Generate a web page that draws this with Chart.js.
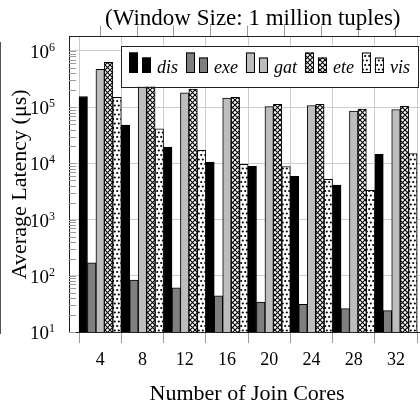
<!DOCTYPE html>
<html lang="en">
<head>
<meta charset="UTF-8">
<title>Average Latency vs Number of Join Cores</title>
<script src="https://cdn.jsdelivr.net/npm/chart.js@4"></script>
<style>
  html, body { margin: 0; padding: 0; background: #fff; overflow: hidden; }
  #wrap { position: relative; width: 420px; height: 407px; overflow: hidden; }
  #edge { position: absolute; left: 0; top: 42px; width: 1px; height: 292px; background: #555; }
</style>
</head>
<body>
<div id="wrap">
  <canvas id="latencyChart" width="440" height="407"></canvas>
  <div id="edge"></div>
</div>
<script>
// values, one entry per core count
const cores = [4, 8, 12, 16, 20, 24, 28, 32];
const dis = [155000, 48000, 19500, 10500, 8900, 5900, 4100, 14500];
const exe = [170, 84, 61, 44, 34, 31, 26, 24];
const gat = [470000, 300000, 180000, 145000, 102000, 107000, 85000, 91000];
const ete = [630000, 340000, 210000, 150000, 112000, 112000, 92000, 103000];
const vis = [150000, 41000, 17000, 9600, 8800, 5200, 3300, 15000];
const seriesNames = ['dis', 'exe', 'gat', 'ete', 'vis'];
const yDecades = [1, 2, 3, 4, 5, 6];

const serif = 'Liberation Serif, Times New Roman, serif';

function makePattern(kind) {
    const c = document.createElement('canvas');
    const g = c.getContext('2d');
    if (kind === 'cross') {
        c.width = 5; c.height = 5;
        g.fillStyle = '#fff';
        g.fillRect(0, 0, 5, 5);
        g.strokeStyle = '#000';
        g.lineWidth = 1.1;
        g.beginPath();
        g.moveTo(-1, -1); g.lineTo(6, 6);
        g.moveTo(6, -1); g.lineTo(-1, 6);
        g.stroke();
    } else {
        c.width = 4; c.height = 9;
        g.fillStyle = '#fff';
        g.fillRect(0, 0, 4, 9);
        g.fillStyle = '#000';
        g.beginPath(); g.arc(1.2, 2, 1.1, 0, Math.PI * 2); g.fill();
        g.beginPath(); g.arc(2.8, 6.5, 1.1, 0, Math.PI * 2); g.fill();
    }
    return g.createPattern(c, 'repeat');
}

const fills = ['#000000', '#7f7f7f', '#bdbdbd', makePattern('cross'), makePattern('dots')];
const seriesData = [dis, exe, gat, ete, vis];

const setCoreTicks = (s) => { s.ticks = cores.map(v => ({ value: v })); };

// legend box drawn inside the plot, two swatches per entry like the original
const boxLegend = {
    id: 'boxLegend',
    afterDraw(chart) {
        const ctx = chart.ctx;
        const area = chart.chartArea;
        const x0 = area.left + 52, y0 = area.top + 9, w = 297, h = 41;
        ctx.save();
        ctx.fillStyle = '#fff';
        ctx.fillRect(x0, y0, w, h);
        ctx.strokeStyle = '#222';
        ctx.lineWidth = 1;
        ctx.strokeRect(Math.round(x0) + 0.5, Math.round(y0) + 0.5, w, h);
        ctx.font = 'italic 18px ' + serif;
        ctx.textBaseline = 'alphabetic';
        ctx.textAlign = 'left';
        const base = Math.round(y0) + 27;
        let x = Math.round(x0) + 8;
        chart.data.datasets.forEach((ds) => {
            [[20.5, 0], [15.5, 13]].forEach(([sh, dx]) => {
                ctx.fillStyle = ds.backgroundColor;
                ctx.fillRect(x + dx, base - sh, 9, sh);
                ctx.strokeStyle = '#000';
                ctx.strokeRect(x + dx + 0.5, base - sh + 0.5, 8, sh - 1);
            });
            ctx.fillStyle = '#000';
            ctx.fillText(ds.label, x + 28, base);
            x += 28 + ctx.measureText(ds.label).width + 8;
        });
        ctx.restore();
    }
};

// log axis labels with raised exponents, plus the small inner tick marks
const logAxisDecor = {
    id: 'logAxisDecor',
    afterDraw(chart) {
        const ctx = chart.ctx;
        const ys = chart.scales.y;
        const left = chart.chartArea.left;
        ctx.save();
        ctx.strokeStyle = '#9a9a9a';
        ctx.lineWidth = 1;
        ctx.beginPath();
        yDecades.forEach(p => {
            for (let k = 1; k <= 9; k++) {
                const v = k * Math.pow(10, p);
                if (v > ys.max) break;
                const py = Math.round(ys.getPixelForValue(v)) + 0.5;
                ctx.moveTo(left, py);
                ctx.lineTo(left + 7, py);
            }
        });
        ctx.stroke();
        ctx.fillStyle = '#000';
        ctx.textBaseline = 'alphabetic';
        yDecades.forEach(p => {
            const py = ys.getPixelForValue(Math.pow(10, p));
            ctx.font = '19px ' + serif;
            ctx.textAlign = 'right';
            ctx.fillText('10', left - 20, py + 7);
            ctx.font = '12px ' + serif;
            ctx.textAlign = 'left';
            ctx.fillText(String(p), left - 20, py);
        });
        ctx.restore();
    }
};

const ctx = document.getElementById('latencyChart').getContext('2d');
new Chart(ctx, {
    type: 'bar',
    data: {
        labels: cores,
        datasets: seriesNames.map((name, i) => ({
            label: name,
            data: seriesData[i],
            backgroundColor: fills[i],
            borderColor: '#000',
            borderWidth: 1
        }))
    },
    options: {
        responsive: false,
        animation: false,
        events: [],
        categoryPercentage: 1,
        barPercentage: 1,
        layout: { padding: { right: 15 } },
        plugins: {
            legend: { display: false },
            tooltip: { enabled: false },
            title: {
                display: true,
                fullSize: false,
                // en space in front nudges the centred title right, as in the original
                text: '\u2002(Window Size: 1 million tuples)',
                color: '#000',
                font: { family: serif, size: 23, weight: 'normal' },
                padding: { top: 5, bottom: 4 }
            }
        },
        scales: {
            x: {
                type: 'linear',
                min: 1.05,
                max: 34.75,
                offset: false,
                afterBuildTicks: setCoreTicks,
                afterFit: (s) => { s.height = 75; },
                grid: { offset: true, color: '#cccccc', tickColor: '#999999', tickLength: 11 },
                border: { color: '#222' },
                ticks: {
                    autoSkip: false,
                    maxRotation: 0,
                    color: '#000',
                    padding: 6,
                    font: { family: serif, size: 18 },
                    callback: (v) => String(v)
                },
                title: {
                    display: true,
                    text: 'Number of Join Cores',
                    color: '#000',
                    font: { family: serif, size: 22 },
                    padding: { top: 0, bottom: 0 }
                }
            },
            x2: {
                type: 'linear',
                position: 'top',
                min: 1.05,
                max: 34.75,
                afterBuildTicks: setCoreTicks,
                afterFit: (s) => { s.height = 0; },
                grid: { offset: true, drawOnChartArea: false, tickColor: '#999999', tickLength: 11 },
                border: { color: '#222' },
                ticks: { display: false }
            },
            y: {
                type: 'logarithmic',
                min: 10,
                max: 1800000,
                afterBuildTicks: (s) => { s.ticks = yDecades.map(p => ({ value: Math.pow(10, p) })); },
                afterFit: (s) => { s.width = 69; },
                grid: { color: '#cccccc', drawTicks: false },
                border: { color: '#222' },
                ticks: { display: false },
                title: {
                    display: true,
                    text: 'Average Latency (μs)',
                    color: '#000',
                    font: { family: serif, size: 22 },
                    padding: { top: 7, bottom: 0 }
                }
            }
        }
    },
    plugins: [boxLegend, logAxisDecor]
});
</script>
</body>
</html>
